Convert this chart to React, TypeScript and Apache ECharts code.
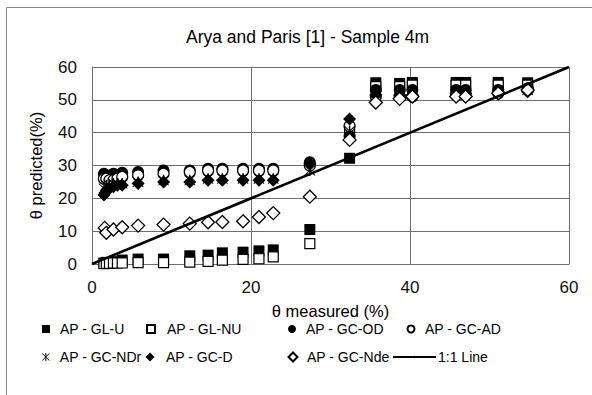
import React, { useEffect, useRef } from "react";
import * as echarts from "echarts";

const titleText = "Arya and Paris [1] - Sample 4m";
const xAxisName = "θ measured (%)";
const yAxisName = "θ predicted(%)";
const xTicks = [0, 60, 20];
const yTicks = [0, 60, 10];

const seriesNames = [
  "AP - GL-U",
  "AP - GL-NU",
  "AP - GC-OD",
  "AP - GC-AD",
  "AP - GC-NDr",
  "AP - GC-D",
  "AP - GC-Nde",
  "1:1 Line",
];

const glU = [
  [1.5, 0.3], [1.8, 0.5], [2.2, 0.4], [2.7, 0.6], [3.2, 0.7], [3.8, 1.2], [5.8, 1.5], [9.0, 1.5],
  [12.3, 2.5], [14.6, 2.7], [16.4, 3.4], [19.0, 3.6], [21.0, 4.0], [22.8, 4.3], [27.4, 10.5],
  [32.4, 32.2], [35.7, 55.2], [38.7, 55.0], [40.3, 55.3], [45.8, 55.3], [47.0, 55.3], [51.1, 55.3], [54.8, 55.2],
];
const glNU = [
  [1.5, 0.1], [1.8, 0.2], [2.2, 0.2], [2.7, 0.3], [3.2, 0.3], [3.8, 0.3], [5.8, 0.4], [9.0, 0.4],
  [12.3, 0.6], [14.6, 0.8], [16.4, 1.2], [19.0, 1.4], [21.0, 1.6], [22.8, 2.2], [27.4, 6.2],
  [32.4, 39.5], [35.7, 54.0], [38.7, 54.0], [40.3, 54.5], [45.8, 54.5], [47.0, 54.5], [51.1, 54.5], [54.8, 54.5],
];
const gcOD = [
  [1.5, 27.5], [1.8, 27.0], [2.2, 26.5], [2.7, 27.5], [3.2, 27.0], [3.8, 27.8], [5.8, 28.0], [9.0, 28.5],
  [12.3, 28.5], [14.6, 29.0], [16.4, 29.0], [19.0, 29.0], [21.0, 29.0], [22.8, 29.0], [27.4, 31.0],
  [32.4, 39.0], [35.7, 53.0], [38.7, 53.0], [40.3, 53.0], [45.8, 53.0], [47.0, 53.0], [51.1, 53.0], [54.8, 53.5],
];
const gcAD = [
  [1.5, 26.0], [1.8, 26.0], [2.2, 25.5], [2.7, 25.5], [3.2, 26.0], [3.8, 26.5], [5.8, 27.0], [9.0, 27.5],
  [12.3, 28.0], [14.6, 28.5], [16.4, 28.5], [19.0, 28.5], [21.0, 28.5], [22.8, 28.5], [27.4, 30.0],
  [32.4, 42.0], [35.7, 51.0], [38.7, 51.0], [40.3, 51.0], [45.8, 51.5], [47.0, 51.5], [51.1, 52.0], [54.8, 53.0],
];
const gcNDr = [
  [1.5, 23.0], [1.8, 24.0], [2.2, 24.0], [2.7, 24.5], [3.2, 24.5], [3.8, 24.5], [5.8, 25.0], [9.0, 25.5],
  [12.3, 25.5], [14.6, 26.0], [16.4, 26.0], [19.0, 26.0], [21.0, 26.0], [22.8, 26.0], [27.4, 28.5],
  [32.4, 40.5], [35.7, 52.0], [38.7, 52.0], [40.3, 52.0], [45.8, 52.5], [47.0, 52.5], [51.1, 53.0], [54.8, 53.0],
];
const gcD = [
  [1.5, 21.0], [1.8, 22.5], [2.2, 23.0], [2.7, 23.5], [3.2, 24.0], [3.8, 24.0], [5.8, 24.5], [9.0, 25.0],
  [12.3, 25.0], [14.6, 25.5], [16.4, 25.5], [19.0, 25.5], [21.0, 25.5], [22.8, 25.5], [27.4, 30.5],
  [32.4, 44.2], [35.7, 51.5], [38.7, 51.5], [40.3, 51.5], [45.8, 52.0], [47.0, 52.0], [51.1, 52.5], [54.8, 52.5],
];
const gcNde = [
  [1.6, 11.0], [1.8, 9.5], [2.7, 10.5], [3.8, 11.2], [5.8, 11.7], [9.0, 12.0],
  [12.3, 12.3], [14.6, 12.7], [16.4, 12.8], [19.0, 13.0], [21.0, 14.3], [22.8, 15.5], [27.4, 20.5],
  [32.4, 37.8], [35.7, 49.2], [38.7, 50.3], [40.3, 51.0], [45.8, 51.0], [47.0, 51.0], [51.1, 52.0], [54.8, 53.0],
];
const oneToOne = [
  [0, 0],
  [60, 60],
];

const asteriskPath =
  "path://M4.4,0 L5.6,0 L5.6,10 L4.4,10 Z M0.8,0.2 L9.8,9.2 L9.2,9.8 L0.2,0.8 Z M9.2,0.2 L9.8,0.8 L0.8,9.8 L0.2,9.2 Z";

const FONT = "Liberation Sans, Arial, sans-serif";

export default function App() {
  const ref = useRef<HTMLDivElement>(null);
  useEffect(() => {
    if (!ref.current) return;
    const chart = echarts.init(ref.current, undefined, { renderer: "svg" });
    const filled = { color: "#000", opacity: 1 };
    const open = { color: "#fff", borderColor: "#000", borderWidth: 1.2, opacity: 1 };
    const sc = (name: string, data: number[][], symbol: string, size: number, style: any) => ({
      name,
      type: "scatter",
      data,
      symbol,
      symbolSize: size,
      itemStyle: style,
    });
    const legendPos: [number, number, number, number][] = [
      // markerCenterX, textStartX, rowCenterY, iconSize
      [46, 60, 329, 8],
      [150, 166, 329, 8],
      [292, 306, 329, 8],
      [410, 424, 329, 7],
      [46, 60, 357, 8],
      [150, 166, 357, 9],
      [292, 306, 357, 9],
    ];
    const textStyle = { fontFamily: FONT, fontSize: 14, color: "#000", lineHeight: 16 };
    const legends: any[] = legendPos.map((p, i) => {
      const s = p[3];
      const left = p[0] - s / 2;
      const pad = p[1] - (left + s + 5);
      return {
        data: [seriesNames[i]],
        left,
        top: p[2] - 8,
        padding: 0,
        itemWidth: s,
        itemHeight: s,
        textStyle: { ...textStyle, padding: [0, 0, 0, pad] },
      };
    });
    legends.push({
      data: [seriesNames[7]],
      left: 392,
      top: 357 - 8,
      padding: 0,
      itemWidth: 43,
      itemHeight: 3,
      textStyle: { ...textStyle, padding: [0, 0, 0, -3] },
    });
    chart.setOption({
      animation: false,
      backgroundColor: "#fff",
      title: {
        text: titleText,
        left: 186,
        top: 28,
        padding: 0,
        textStyle: { fontFamily: FONT, fontSize: 17.5, fontWeight: "normal", color: "#000" },
      },
      graphic: [
        {
          type: "rect",
          shape: { x: 6.5, y: 7.5, width: 700, height: 500 },
          style: { fill: "none", stroke: "#888", lineWidth: 1 },
          silent: true,
        },
      ],
      legend: legends,
      grid: { left: 92, right: 23, top: 67, bottom: 131 },
      xAxis: {
        type: "value",
        min: xTicks[0],
        max: xTicks[1],
        interval: xTicks[2],
        name: xAxisName,
        nameLocation: "middle",
        nameGap: 38,
        nameTextStyle: { fontFamily: FONT, fontSize: 16.5, color: "#000" },
        axisLine: { show: true, lineStyle: { color: "#6e6e6e", width: 1 } },
        axisTick: { show: false },
        axisLabel: { fontFamily: FONT, fontSize: 17, color: "#111", margin: 15 },
        splitLine: { show: true, lineStyle: { color: "#6e6e6e", width: 1 } },
      },
      yAxis: {
        type: "value",
        min: yTicks[0],
        max: yTicks[1],
        interval: yTicks[2],
        name: yAxisName,
        nameLocation: "middle",
        nameGap: 48,
        nameTextStyle: { fontFamily: FONT, fontSize: 16.5, color: "#000" },
        axisLine: { show: true, lineStyle: { color: "#6e6e6e", width: 1 } },
        axisTick: { show: false },
        axisLabel: { fontFamily: FONT, fontSize: 17, color: "#111", margin: 15 },
        splitLine: { show: true, lineStyle: { color: "#6e6e6e", width: 1 } },
      },
      series: [
        sc(seriesNames[0], glU, "rect", 11, filled),
        sc(seriesNames[1], glNU, "rect", 10, open),
        sc(seriesNames[2], gcOD, "circle", 12, filled),
        sc(seriesNames[3], gcAD, "circle", 11, open),
        sc(seriesNames[4], gcNDr, asteriskPath, 11, filled),
        sc(seriesNames[5], gcD, "diamond", 13, filled),
        sc(seriesNames[6], gcNde, "diamond", 13, { color: "#fff", borderColor: "#000", borderWidth: 1.3, opacity: 1 }),
        {
          name: seriesNames[7],
          type: "line",
          data: oneToOne,
          symbol: "none",
          lineStyle: { color: "#000", width: 2.6 },
          itemStyle: { color: "#000" },
          z: 3,
        },
      ],
    });
    return () => chart.dispose();
  }, []);
  return (
    <div
      ref={ref}
      style={{ position: "absolute", left: 0, top: 0, width: 592, height: 395 }}
    />
  );
}
